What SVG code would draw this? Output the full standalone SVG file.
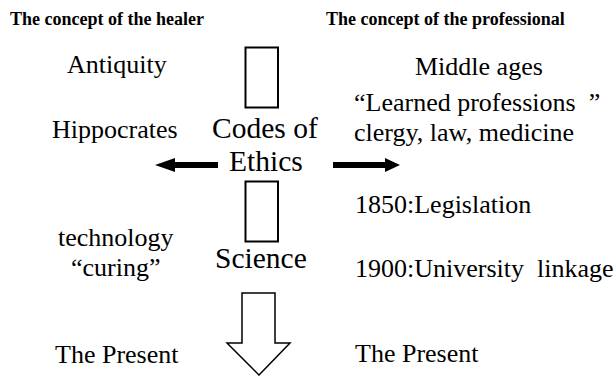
<svg xmlns="http://www.w3.org/2000/svg" width="614" height="376" viewBox="0 0 614 376">
<style>
text{font-family:"Liberation Serif","DejaVu Serif",serif;font-style:normal;fill:#000;white-space:pre}
.t{font-size:18px;font-weight:bold}
.l{font-size:26px;font-weight:normal}
.c{font-size:29.5px;font-weight:normal}
.box{fill:#fff;stroke:#000;stroke-width:2}
.arr{fill:#000;stroke:none}
.down{fill:#fff;stroke:#000;stroke-width:1.5;stroke-linejoin:miter}
</style>
<rect width="614" height="376" fill="#fff"/>
<g id="title-healer"><text class="t" x="10" y="24.5">The concept of the healer</text></g>
<g id="title-professional"><text class="t" x="326" y="24.5">The concept of the professional</text></g>
<g id="antiquity"><text class="l" x="67" y="73">Antiquity</text></g>
<g id="hippocrates"><text class="l" x="52" y="138">Hippocrates</text></g>
<g id="technology"><text class="l" x="58" y="246">technology</text><text class="l" x="71" y="276">“curing”</text></g>
<g id="present-left"><text class="l" x="55" y="363">The Present</text></g>
<g id="box-top"><rect class="box" x="245.5" y="47.5" width="32.5" height="60"/></g>
<g id="codes"><text class="c" x="212" y="138">Codes of</text><text class="c" x="229" y="171">Ethics</text></g>
<g id="box-bottom"><rect class="box" x="245.5" y="181.5" width="32.5" height="60"/></g>
<g id="science"><text class="c" x="215" y="268">Science</text></g>
<g id="middle-ages"><text class="l" x="415" y="75">Middle ages</text></g>
<g id="learned"><text class="l" x="354" y="111">“Learned professions  ”</text><text class="l" x="354" y="141">clergy, law, medicine</text></g>
<g id="legislation"><text class="l" x="355" y="213">1850:Legislation</text></g>
<g id="university"><text class="l" x="355" y="277">1900:University  linkage</text></g>
<g id="present-right"><text class="l" x="355" y="362">The Present</text></g>
<g id="connectors">
<polygon class="arr" points="218,162 175,162 175,158 155,165 175,172 175,168 218,168"/>
<polygon class="arr" points="333,162 385,162 385,158 400,165 385,172 385,168 333,168"/>
<polygon class="down" points="242,293 275,293 275,343 290,343 259,375 227,343 242,343"/>
</g>
</svg>
